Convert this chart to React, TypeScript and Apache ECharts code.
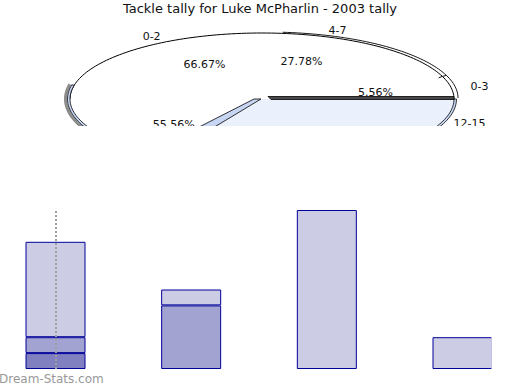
import { useEffect, useRef } from 'react';
import * as echarts from 'echarts';

const chartTitle = 'Tackle tally for Luke McPharlin - 2003 tally';
const upperPieNames = ['0-3', '4-7', '0-2'];
const upperPieValues = [5.56, 27.78, 66.67];
const lowerPieNames = ['12-15', '', ''];
const lowerPieValues = [11.11, 55.56, 33.33];
const barCategories = ['A', 'B', 'C', 'D'];
const barDark = [1, 0, 0, 0];
const barMid = [1, 4, 0, 0];
const barLight = [6, 1, 10, 2];
const watermark = 'Dream-Stats.com';

const CX = 262, CY = 99, RX = 192, RY = 66, CLIP_Y = 126;
const FONT = '"DejaVu Sans", sans-serif';
const lowerColors = ['#eaf0fc', '#ffffff', '#eaf0fc'];

const rad = (a: number) => (a * Math.PI) / 180;
function pt(a: number, dr = 0, dx = 0, dy = 0): number[] {
  return [CX + dx + (RX + dr) * Math.cos(rad(a)), CY + dy - (RY + dr) * Math.sin(rad(a))];
}
function arc(a0: number, a1: number, dr = 0, dx = 0, dy = 0): number[][] {
  const n = Math.max(2, Math.ceil(Math.abs(a1 - a0) / 1.5));
  const out: number[][] = [];
  for (let i = 0; i <= n; i++) out.push(pt(a0 + ((a1 - a0) * i) / n, dr, dx, dy));
  return out;
}
function slices(values: number[]) {
  const total = values.reduce((s, v) => s + v, 0);
  let acc = 0;
  return values.map((v) => {
    const s = (acc / total) * 360;
    acc += v;
    return [s, (acc / total) * 360, v];
  });
}
function txt(x: number, y: number, text: string) {
  return {
    type: 'text',
    x,
    y,
    style: {
      text,
      fill: '#111',
      font: '11px ' + FONT,
      align: 'center',
      verticalAlign: 'middle',
      textAlign: 'center',
      textVerticalAlign: 'middle',
    },
  };
}
function labels(s: number, e: number, v: number, name: string, sign: number) {
  const mid = (s + e) / 2;
  const c = Math.cos(rad(mid));
  const sn = sign * Math.abs(Math.sin(rad(mid)));
  const els: any[] = [];
  const nx = CX + RX * 1.15 * c, ny = CY - RY * 1.1 * sn;
  const px = CX + RX * 0.6 * c, py = CY - RY * 0.6 * sn;
  if (name && ny - 6 < CLIP_Y) els.push(txt(nx, ny, name));
  if (py - 6 < CLIP_Y) els.push(txt(px, py, v.toFixed(2) + '%'));
  return els;
}
const noZero = (arr: number[]) => arr.map((v) => (v === 0 ? null : v));

export default function App() {
  const ref = useRef<HTMLDivElement>(null);
  useEffect(() => {
    if (!ref.current) return;
    const chart = echarts.init(ref.current, null, { renderer: 'svg' });
    const upperData = slices(upperPieValues);
    const lowerData = slices(lowerPieValues);

    const renderUpper = (params: any, api: any) => {
      const s = api.value(0), e = api.value(1), v = api.value(2);
      const i = params.dataIndex;
      const children: any[] = [];
      const lo = Math.max(s, 0), hi = Math.min(e, 180);
      if (hi > lo) {
        const rim = arc(lo, hi);
        children.push({ type: 'polygon', shape: { points: [[CX, CY], ...rim] }, style: { fill: '#ffffff' } });
        if (lo < 85) {
          const top = Math.min(hi, 85);
          children.push({
            type: 'polyline',
            shape: { points: arc(lo, top, 0, 4, -1) },
            style: { stroke: '#000', lineWidth: 0.9, fill: null },
          });
          if (lo > 0) {
            const a = pt(lo), b = pt(lo, 0, 4, -1);
            const c2 = pt(lo, -4);
            children.push({
              type: 'polyline',
              shape: { points: [c2, a, b] },
              style: { stroke: '#000', lineWidth: 0.9, fill: null },
            });
          }
        }
        children.push({ type: 'polyline', shape: { points: rim }, style: { stroke: '#000', lineWidth: 1, fill: null } });
      }
      children.push(...labels(s, e, v, upperPieNames[i], 1));
      return { type: 'group', children };
    };

    const renderLower = (params: any, api: any) => {
      const s = api.value(0), e = api.value(1), v = api.value(2);
      const i = params.dataIndex;
      const children: any[] = [];
      const lo = Math.max(s, 180), hi = Math.min(e, 360);
      const sideLo = Math.max(s, 168);
      const sideHi = Math.min(e, 215);
      if (sideHi > sideLo) {
        children.push({
          type: 'polyline',
          shape: { points: arc(sideLo, sideHi, 4.5) },
          style: { stroke: '#8c8c8c', lineWidth: 3, fill: null },
        });
      }
      if (hi > lo) {
        const rim = arc(lo, hi);
        children.push({
          type: 'polygon',
          shape: { points: [[CX, CY], ...rim] },
          style: { fill: lowerColors[i] },
        });
      }
      const bLo = Math.max(s, 168), bHi = Math.min(e, 360);
      if (bHi > bLo) {
        const inner = arc(bLo, bHi);
        const outer = arc(bLo, bHi, 2.5).reverse();
        children.push({
          type: 'polygon',
          shape: { points: [...inner, ...outer] },
          style: { fill: '#c6d6f3', stroke: '#000', lineWidth: 0.8 },
        });
      }
      if (s > 180 && s < 360) {
        const p1 = pt(s);
        children.push({
          type: 'polygon',
          shape: { points: [[CX - 1, CY], p1, [p1[0] - 24, p1[1]], [CX - 8, CY]] },
          style: { fill: '#c6d6f3', stroke: '#000', lineWidth: 0.8 },
        });
      }
      if (e >= 359.99 && hi > lo) {
        const p1 = pt(0);
        children.push({
          type: 'polygon',
          shape: { points: [[CX + 6, CY - 2.5], [p1[0], p1[1] - 2.5], [p1[0], p1[1] + 0.5], [CX + 9, CY + 0.5]] },
          style: { fill: '#4a4a4a', stroke: '#000', lineWidth: 0.8 },
        });
      }
      children.push(...labels(s, e, v, lowerPieNames[i], -1));
      return { type: 'group', children };
    };

    chart.setOption({
      animation: false,
      title: {
        text: chartTitle,
        left: 'center',
        top: 2,
        padding: 0,
        textStyle: { fontSize: 13, fontWeight: 'normal', color: '#111', fontFamily: FONT },
      },
      grid: { left: 55.5, right: 57.5, top: 210, bottom: 21 },
      xAxis: { type: 'category', data: barCategories, show: false, boundaryGap: false },
      yAxis: { type: 'value', min: 0, max: 10, show: false },
      series: [
        {
          type: 'custom',
          coordinateSystem: 'none',
          renderItem: renderUpper,
          data: upperData,
          silent: true,
          z: 3,
        },
        {
          type: 'custom',
          coordinateSystem: 'none',
          renderItem: renderLower,
          data: lowerData,
          silent: true,
          z: 4,
        },
        {
          type: 'bar',
          stack: 't',
          data: noZero(barDark),
          barWidth: 60,
          itemStyle: { color: '#8080c0', borderColor: '#000099', borderWidth: 1 },
        },
        {
          type: 'bar',
          stack: 't',
          data: noZero(barMid),
          barWidth: 60,
          itemStyle: { color: '#a3a3d1', borderColor: '#000099', borderWidth: 1 },
        },
        {
          type: 'bar',
          stack: 't',
          data: noZero(barLight),
          barWidth: 60,
          itemStyle: { color: '#ccccE4', borderColor: '#000099', borderWidth: 1 },
          markLine: {
            silent: true,
            symbol: 'none',
            label: { show: false },
            lineStyle: { color: '#a0a0a0', type: [2, 2], width: 2 },
            data: [{ xAxis: 0 }],
          },
        },
      ],
      graphic: [
        { type: 'rect', z: 100, shape: { x: 0, y: CLIP_Y, width: 520, height: 80 }, style: { fill: '#ffffff' } },
        { type: 'rect', z: 100, shape: { x: 491.4, y: 200, width: 30, height: 175 }, style: { fill: '#ffffff' } },
        {
          type: 'text',
          z: 101,
          x: -1,
          y: 373,
          style: { text: watermark, fill: '#999999', font: '12px ' + FONT },
        },
      ],
    });
    return () => chart.dispose();
  }, []);
  return <div ref={ref} style={{ width: 520, height: 390, position: 'absolute', left: 0, top: 0 }} />;
}
